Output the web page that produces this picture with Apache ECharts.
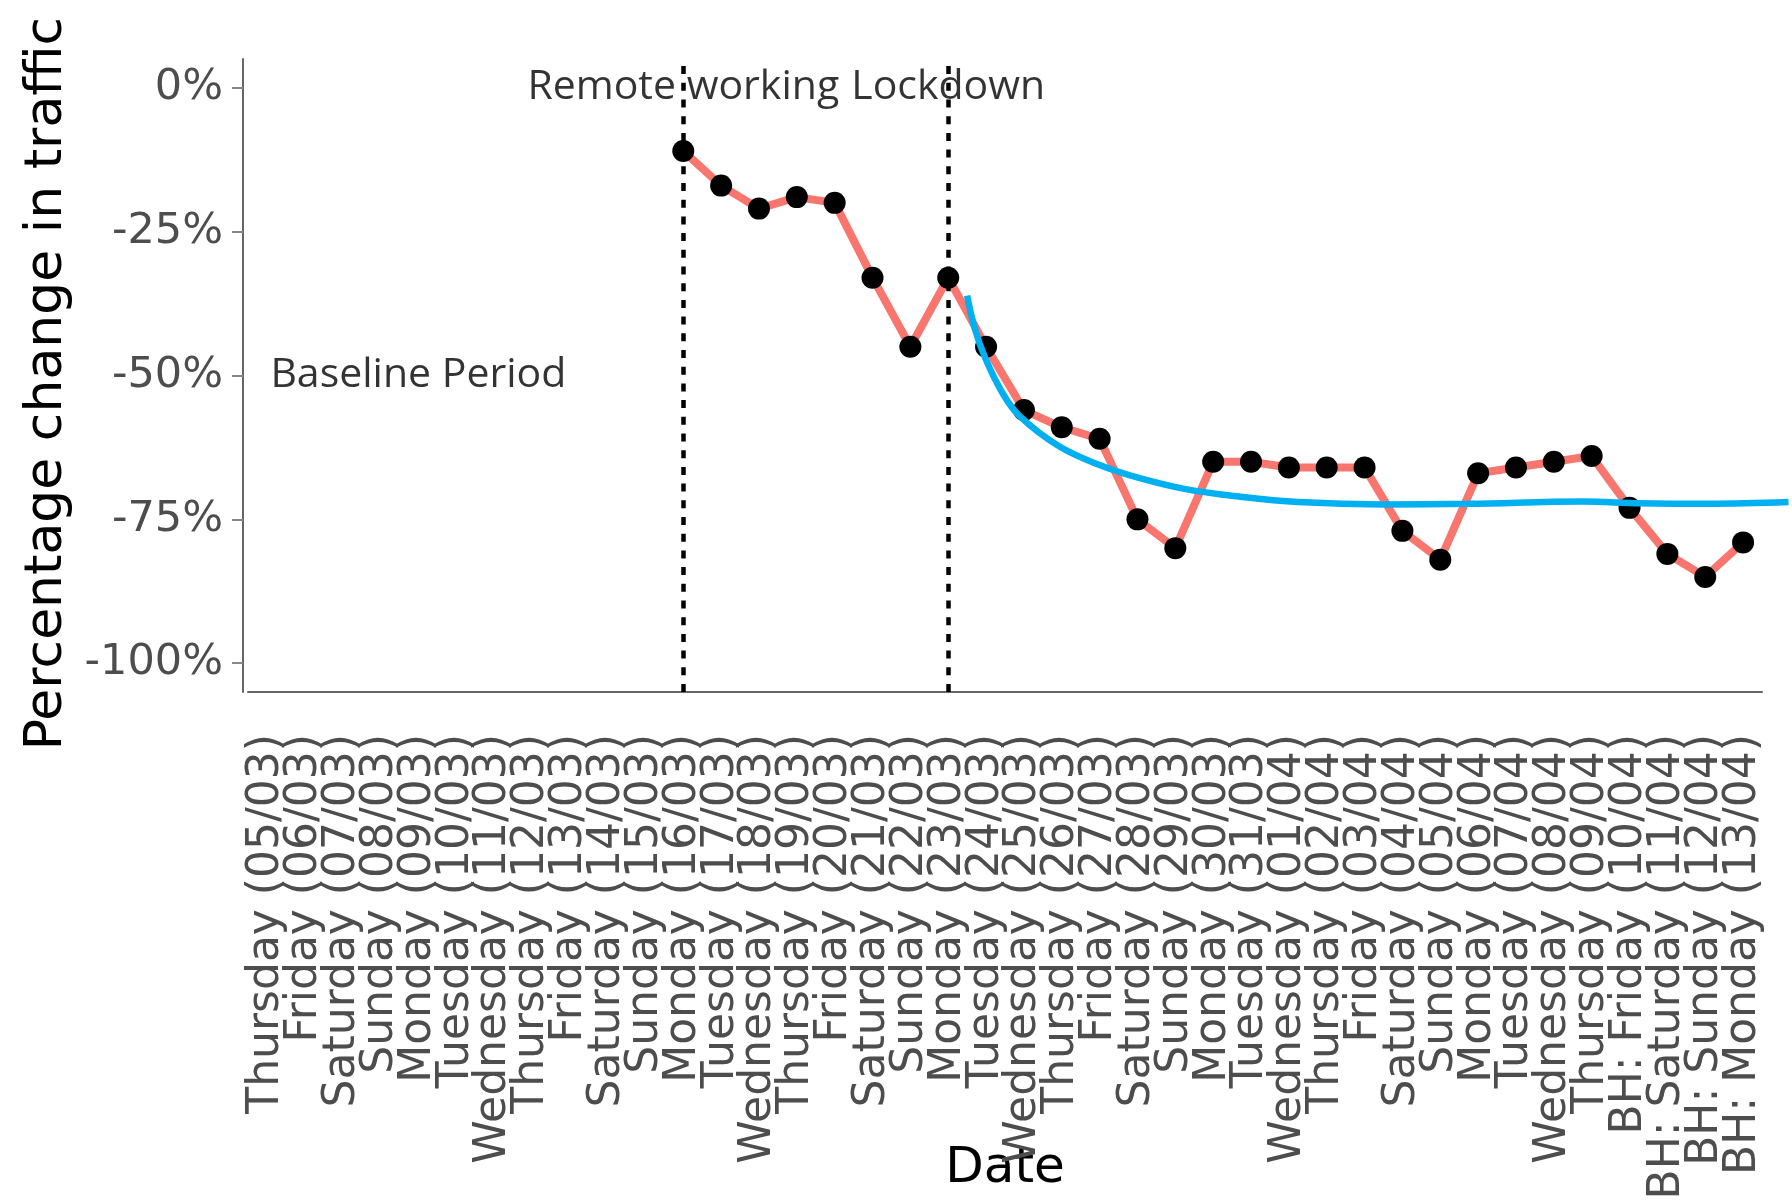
<!DOCTYPE html>
<html>
<head>
<meta charset="utf-8">
<script src="https://cdn.jsdelivr.net/npm/echarts@6/dist/echarts.min.js"></script>
<style>
html,body{margin:0;padding:0;background:#fff;}
#chart{width:1792px;height:1203px;}
</style>
</head>
<body>
<div id="chart"></div>
<script>
// ---- data ----
const categories = [
  'Thursday (05/03)', 'Friday (06/03)', 'Saturday (07/03)', 'Sunday (08/03)', 'Monday (09/03)',
  'Tuesday (10/03)', 'Wednesday (11/03)', 'Thursday (12/03)', 'Friday (13/03)', 'Saturday (14/03)',
  'Sunday (15/03)', 'Monday (16/03)', 'Tuesday (17/03)', 'Wednesday (18/03)', 'Thursday (19/03)',
  'Friday (20/03)', 'Saturday (21/03)', 'Sunday (22/03)', 'Monday (23/03)', 'Tuesday (24/03)',
  'Wednesday (25/03)', 'Thursday (26/03)', 'Friday (27/03)', 'Saturday (28/03)', 'Sunday (29/03)',
  'Monday (30/03)', 'Tuesday (31/03)', 'Wednesday (01/04)', 'Thursday (02/04)', 'Friday (03/04)',
  'Saturday (04/04)', 'Sunday (05/04)', 'Monday (06/04)', 'Tuesday (07/04)', 'Wednesday (08/04)',
  'Thursday (09/04)', 'BH: Friday (10/04)', 'BH: Saturday (11/04)', 'BH: Sunday (12/04)', 'BH: Monday (13/04)'
];
const trafficChange = [
  null, null, null, null, null, null, null, null, null, null, null,
  -11, -17, -21, -19, -20, -33, -45, -33, -45,
  -56, -59, -61, -75, -80, -65, -65, -66, -66, -66,
  -77, -82, -67, -66, -65, -64, -73, -81, -85, -79
];
// fitted curve (x in category-index units)
const fitX = [18.5, 18.7, 18.98, 19.43, 19.88, 20.93, 21.98, 23.04, 24.24, 25.75, 27.25, 29.5, 31.76, 34.76, 36.27, 38.07, 40.2];
const fitY = [-36.1, -41.8, -47.0, -53.0, -57.0, -62.3, -65.5, -67.8, -69.7, -71.1, -72.0, -72.4, -72.3, -71.9, -72.2, -72.3, -72.0];
const yTicks = [0, -25, -50, -75, -100];
const eventDates = ['Monday (16/03)', 'Monday (23/03)'];
const annoX = ['Monday (09/03)', 'Monday (16/03)', 'Monday (23/03)'];
const annoY = [-50, 0, 0];
const annoText = ['Baseline Period', 'Remote working', 'Lockdown'];

const W = 1792, gLeft = 248, gRight = 30;
const unit = (W - gLeft - gRight) / categories.length;
const fitMax = -0.5 + (W - gLeft) / unit;

const chart = echarts.init(document.getElementById('chart'), null, {renderer: 'canvas'});
const option = {
  animation: false,
  backgroundColor: '#ffffff',
  grid: [
    {left: gLeft, right: gRight, top: 59, bottom: 511, containLabel: false, outerBoundsMode: 'none'},
    {left: gLeft, right: 0, top: 59, bottom: 511, containLabel: false, outerBoundsMode: 'none'}
  ],
  xAxis: [{
    type: 'category',
    gridIndex: 0,
    data: categories,
    boundaryGap: true,
    axisLine: {onZero: false, lineStyle: {color: '#666', width: 2}},
    axisTick: {alignWithLabel: true, interval: 0, length: 11, lineStyle: {color: '#888', width: 2}},
    axisLabel: {interval: 0, rotate: 90, margin: 42, fontFamily: 'DejaVu Sans', fontSize: 44, color: '#4d4d4d'},
    splitLine: {show: false},
    name: 'Date',
    nameLocation: 'middle',
    nameGap: 452,
    nameMoveOverlap: false,
    nameTextStyle: {fontFamily: 'DejaVu Sans', fontSize: 50, color: '#000'}
  }, {
    type: 'value', gridIndex: 1, min: -0.5, max: fitMax, show: false
  }],
  yAxis: [{
    type: 'value',
    gridIndex: 0,
    min: -105, max: 5,
    offset: 5,
    splitLine: {show: false},
    axisLine: {show: true, onZero: false, lineStyle: {color: '#666', width: 2}},
    axisTick: {show: true, customValues: yTicks, length: 11, lineStyle: {color: '#888', width: 2}},
    axisLabel: {customValues: yTicks, formatter: v => v + '%', margin: 20, fontFamily: 'DejaVu Sans', fontSize: 43, color: '#4d4d4d'},
    name: 'Percentage change in traffic',
    nameLocation: 'middle',
    nameGap: 170,
    nameMoveOverlap: false,
    nameTextStyle: {fontFamily: 'DejaVu Sans', fontSize: 52, color: '#000', padding: [0, 16, 0, 0]}
  }, {
    type: 'value', gridIndex: 1, min: -105, max: 5, show: false, splitLine: {show: false}
  }],
  series: [
    {
      type: 'line', xAxisIndex: 0, yAxisIndex: 0, data: [], z: 1,
      markLine: {
        silent: true, symbol: 'none', label: {show: false},
        lineStyle: {color: '#000', width: 4.5, type: [8, 8.7]},
        data: eventDates.map(d => ({xAxis: d}))
      }
    },
    {
      type: 'line', xAxisIndex: 0, yAxisIndex: 0, data: trafficChange, z: 3,
      connectNulls: false,
      symbol: 'circle', symbolSize: 22, showSymbol: true,
      itemStyle: {color: '#000', borderWidth: 0},
      lineStyle: {color: '#F8766D', width: 8}
    },
    {
      type: 'line', xAxisIndex: 1, yAxisIndex: 1, z: 5, clip: false,
      data: fitX.map((x, i) => [x, fitY[i]]),
      smooth: 0.4, symbol: 'none',
      lineStyle: {color: '#00B0F0', width: 6.5}
    },
    {
      type: 'scatter', xAxisIndex: 0, yAxisIndex: 0, z: 2, symbolSize: 0,
      data: annoX.map((x, i) => ({value: [x, annoY[i]], name: annoText[i]})),
      label: {show: true, position: 'inside', formatter: p => p.name, fontFamily: 'Open Sans', fontSize: 41, color: '#000'}
    }
  ]
};
chart.setOption(option);
</script>
</body>
</html>
